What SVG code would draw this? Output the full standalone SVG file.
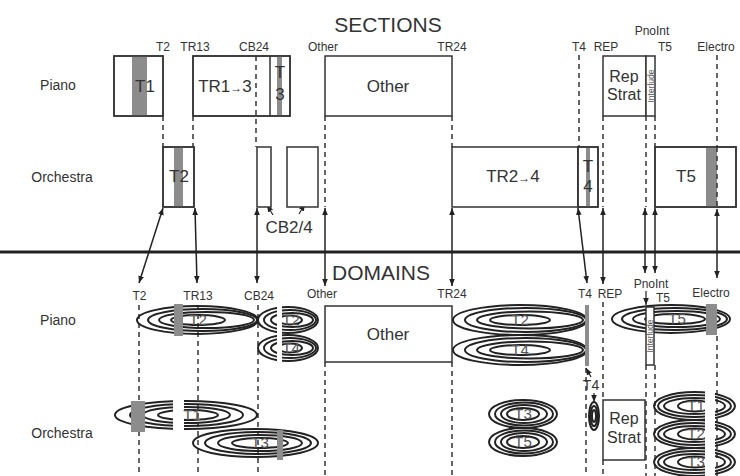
<svg xmlns="http://www.w3.org/2000/svg" width="740" height="476" viewBox="0 0 740 476">
<defs>
<marker id="ah" viewBox="0 0 10 10" refX="10" refY="5" markerWidth="7" markerHeight="7" markerUnits="userSpaceOnUse" orient="auto-start-reverse"><path d="M0,1 L10,5 L0,9 z" fill="#222"/></marker>
<style>
text{font-family:"Liberation Sans",Arial,sans-serif;fill:#333}
.lbl{font-size:12px;text-anchor:middle}
.row{font-size:14px;text-anchor:middle}
.big{font-size:17px;text-anchor:middle}
.rs{font-size:16px;text-anchor:middle}
.ttl{font-size:21px;text-anchor:middle}
.box{fill:#fff;stroke:#333;stroke-width:1.5}
.out{fill:none;stroke:#333;stroke-width:1.5}
.bar{fill:#8c8c8c}
.dash{stroke:#333;stroke-width:1.5;stroke-dasharray:5 4;fill:none}
.arr{stroke:#222;stroke-width:1.5;fill:none;marker-start:url(#ah);marker-end:url(#ah)}
.arr1{stroke:#222;stroke-width:1.2;fill:none;marker-end:url(#ah)}
.el{fill:none;stroke:#222;stroke-width:2}
.et{font-size:15px;text-anchor:middle;fill:#555}
.gap{fill:#fff}
.il{font-size:8.5px;text-anchor:middle;fill:#555}
</style>
</defs>

<g id="titles">
<text class="ttl" x="388" y="32">SECTIONS</text>
<text class="ttl" x="381" y="280">DOMAINS</text>
<text class="row" x="58" y="90">Piano</text>
<text class="row" x="62" y="182">Orchestra</text>
<text class="row" x="58" y="325">Piano</text>
<text class="row" x="62" y="438">Orchestra</text>
</g>

<g id="section-labels">
<text class="lbl" x="163" y="51">T2</text>
<text class="lbl" x="195" y="51">TR13</text>
<text class="lbl" x="254" y="51">CB24</text>
<text class="lbl" x="323" y="51">Other</text>
<text class="lbl" x="452" y="51">TR24</text>
<text class="lbl" x="579" y="51">T4</text>
<text class="lbl" x="606" y="51">REP</text>
<text class="lbl" x="652" y="35">PnoInt</text>
<text class="lbl" x="665" y="51">T5</text>
<text class="lbl" x="716" y="51">Electro</text>
</g>

<g id="domain-labels">
<text class="lbl" x="139.5" y="300">T2</text>
<text class="lbl" x="198" y="300">TR13</text>
<text class="lbl" x="259" y="300">CB24</text>
<text class="lbl" x="322" y="298">Other</text>
<text class="lbl" x="452" y="298">TR24</text>
<text class="lbl" x="585" y="298">T4</text>
<text class="lbl" x="610" y="298">REP</text>
<text class="lbl" x="651" y="288">PnoInt</text>
<text class="lbl" x="663" y="302">T5</text>
<text class="lbl" x="711" y="297">Electro</text>
</g>

<g id="connectors">
<path class="dash" d="M163,116V147 M193,116V147 M256,56V147 M325,116V207 M452,116V147 M579,55V147 M603,116V207 M646,116V207 M655,116V147 M717,55V207"/>
<path class="dash" d="M139,305V476 M198,305V476 M258,305V476 M325,362V476 M452,362V476 M586,368V476 M603,302V400 M603,460V476 M646,365V476 M655,365V476 M717,336V476"/>
<line x1="0" y1="252" x2="740" y2="252" stroke="#222" stroke-width="3"/>
<line class="arr" x1="163" y1="208" x2="139" y2="283"/>
<line class="arr" x1="195" y1="208" x2="197" y2="283"/>
<line class="arr" x1="257" y1="208" x2="257" y2="283"/>
<line class="arr" x1="325" y1="208" x2="325" y2="286"/>
<line class="arr" x1="452" y1="208" x2="452" y2="286"/>
<line class="arr" x1="578" y1="208" x2="587" y2="283"/>
<line class="arr" x1="603" y1="208" x2="603" y2="284"/>
<line class="arr" x1="645" y1="208" x2="645" y2="273"/>
<line class="arr" x1="655" y1="208" x2="655" y2="273"/>
<line class="arr" x1="717" y1="209" x2="717" y2="278"/>
<line class="arr1" x1="273" y1="215" x2="267" y2="205"/>
<line class="arr1" x1="299" y1="214" x2="305" y2="204"/>
<line class="arr1" x1="646" y1="291" x2="646" y2="305"/>
<line class="arr1" x1="591" y1="377" x2="586" y2="368"/>
<line class="arr1" x1="594" y1="393" x2="594" y2="402"/>
</g>

<g id="sec-piano-T1">
<rect class="box" x="114" y="56" width="49" height="60"/>
<rect class="bar" x="132" y="56" width="15" height="60"/>
<rect class="out" x="114" y="56" width="49" height="60"/>
<text class="big" x="145" y="92">T1</text>
</g>

<g id="sec-piano-TR13">
<rect class="box" x="193" y="56" width="97" height="60"/>
<rect class="bar" x="277" y="56" width="5" height="60"/>
<rect class="out" x="193" y="56" width="97" height="60"/>
<line x1="270" y1="56" x2="270" y2="116" stroke="#333" stroke-width="1.5"/>
<path class="dash" d="M256,56V116"/>
<text class="big" x="225" y="92">TR1<tspan font-size="12">→</tspan>3</text>
<text class="big" x="280" y="78">T</text>
<text class="big" x="280" y="100">3</text>
</g>

<g id="sec-piano-Other">
<rect class="box" x="325" y="56" width="127" height="60"/>
<text class="big" x="388" y="92">Other</text>
</g>

<g id="sec-piano-RepStrat">
<rect class="box" x="603" y="56" width="43" height="60"/>
<text class="rs" x="624" y="82">Rep</text>
<text class="rs" x="624" y="100">Strat</text>
</g>

<g id="sec-piano-Interlude">
<rect class="box" x="646" y="56" width="9" height="60"/>
<text class="il" transform="translate(653.5,86) rotate(-90)">Interlude</text>
</g>

<g id="sec-orch-T2">
<rect class="box" x="163" y="147" width="31" height="60"/>
<rect class="bar" x="174" y="147" width="9" height="60"/>
<rect class="out" x="163" y="147" width="31" height="60"/>
<text class="big" x="179" y="182">T2</text>
</g>

<g id="sec-orch-CB24">
<rect class="box" x="257" y="147" width="14" height="60"/>
<rect class="box" x="287" y="147" width="31" height="60"/>
<text class="big" x="289" y="233" font-size="16">CB2/4</text>
</g>

<g id="sec-orch-TR24">
<rect class="box" x="452" y="147" width="126" height="60"/>
<rect class="box" x="578" y="147" width="20" height="60"/>
<rect class="bar" x="586" y="147" width="4" height="60"/>
<rect class="out" x="578" y="147" width="20" height="60"/>
<text class="big" x="513" y="182">TR2<tspan font-size="12">→</tspan>4</text>
<text class="big" x="588" y="172">T</text>
<text class="big" x="588" y="192">4</text>
</g>

<g id="sec-orch-T5">
<rect class="box" x="655" y="147" width="81" height="60"/>
<rect class="bar" x="706" y="147" width="11" height="60"/>
<rect class="out" x="655" y="147" width="81" height="60"/>
<path class="dash" d="M717,147V207"/>
<text class="big" x="686" y="182">T5</text>
</g>

<g id="dom-piano-T2">
<ellipse class="el" cx="197.5" cy="320" rx="60.5" ry="14"/>
<ellipse class="el" cx="202.5" cy="320" rx="54.5" ry="11"/>
<ellipse class="el" cx="206.5" cy="320" rx="47.5" ry="8"/>
<ellipse class="el" cx="198" cy="320" rx="27" ry="5"/>
<rect class="bar" x="174" y="304" width="9" height="32"/>
<text class="et" x="198" y="325">T2</text>
</g>

<g id="dom-piano-CB-T2">
<ellipse class="el" cx="288" cy="320" rx="30" ry="13"/>
<ellipse class="el" cx="290" cy="320" rx="26" ry="10"/>
<ellipse class="el" cx="292" cy="320" rx="21" ry="7"/>
<ellipse class="el" cx="290" cy="320" rx="12" ry="4.5"/>
<text class="et" x="291" y="325" font-size="14">T2</text>
</g>

<g id="dom-piano-CB-T4">
<ellipse class="el" cx="288" cy="348" rx="30" ry="13"/>
<ellipse class="el" cx="290" cy="348" rx="26" ry="10"/>
<ellipse class="el" cx="292" cy="348" rx="21" ry="7"/>
<ellipse class="el" cx="290" cy="348" rx="12" ry="4.5"/>
<rect class="gap" x="277" y="305" width="5" height="58"/>
<text class="et" x="291" y="353" font-size="14">T4</text>
</g>

<g id="dom-piano-Other">
<rect class="box" x="325" y="306" width="127" height="56"/>
<text class="big" x="388" y="340">Other</text>
</g>

<g id="dom-piano-TR24-T2">
<ellipse class="el" cx="520" cy="320" rx="67" ry="15"/>
<ellipse class="el" cx="525.5" cy="320" rx="60.5" ry="12"/>
<ellipse class="el" cx="530" cy="320" rx="53" ry="8.5"/>
<ellipse class="el" cx="520" cy="320" rx="30" ry="5"/>
<text class="et" x="520" y="325">T2</text>
</g>

<g id="dom-piano-TR24-T4">
<ellipse class="el" cx="520" cy="350" rx="67" ry="15"/>
<ellipse class="el" cx="525.5" cy="350" rx="60.5" ry="12"/>
<ellipse class="el" cx="530" cy="350" rx="53" ry="8.5"/>
<ellipse class="el" cx="520" cy="350" rx="30" ry="5"/>
<text class="et" x="520" y="355">T4</text>
<rect class="bar" x="585" y="305" width="4" height="61"/>
</g>

<g id="dom-piano-T5">
<ellipse class="el" cx="671" cy="319" rx="59" ry="14"/>
<ellipse class="el" cx="674.5" cy="319" rx="52.5" ry="11"/>
<ellipse class="el" cx="676.5" cy="319" rx="43.5" ry="8"/>
<ellipse class="el" cx="675" cy="319" rx="30" ry="5"/>
<text class="et" x="677" y="324">T5</text>
<rect class="bar" x="706" y="304" width="11" height="31"/>
</g>

<g id="dom-piano-Interlude">
<rect class="box" x="646" y="307" width="8" height="58"/>
<text class="il" transform="translate(653,336) rotate(-90)">Interlude</text>
</g>

<g id="dom-orch-T1">
<ellipse class="el" cx="186" cy="415" rx="71" ry="14"/>
<ellipse class="el" cx="186.5" cy="415" rx="56.5" ry="11"/>
<ellipse class="el" cx="186.5" cy="415" rx="43.5" ry="8"/>
<ellipse class="el" cx="188" cy="415" rx="30" ry="5"/>
<rect class="gap" x="173" y="399" width="11" height="33"/>
<rect class="bar" x="131" y="401" width="14" height="31"/>
<text class="et" x="192" y="420">T1</text>
</g>

<g id="dom-orch-T3">
<ellipse class="el" cx="255.5" cy="443" rx="62.5" ry="14"/>
<ellipse class="el" cx="258" cy="443" rx="53" ry="11"/>
<ellipse class="el" cx="260" cy="443" rx="42" ry="8"/>
<ellipse class="el" cx="260" cy="443" rx="28" ry="5"/>
<rect class="bar" x="277" y="430" width="6" height="30"/>
<text class="et" x="260" y="448">T3</text>
</g>

<g id="dom-orch-TR24-T3">
<ellipse class="el" cx="523" cy="414" rx="34" ry="14"/>
<ellipse class="el" cx="524" cy="414" rx="29" ry="11.5"/>
<ellipse class="el" cx="524" cy="414" rx="23" ry="9"/>
<ellipse class="el" cx="523" cy="414" rx="16" ry="6"/>
<text class="et" x="523" y="419" font-size="14">T3</text>
</g>

<g id="dom-orch-TR24-T5">
<ellipse class="el" cx="523" cy="442" rx="34" ry="14"/>
<ellipse class="el" cx="524" cy="442" rx="29" ry="11.5"/>
<ellipse class="el" cx="524" cy="442" rx="23" ry="9"/>
<ellipse class="el" cx="523" cy="442" rx="16" ry="6"/>
<text class="et" x="523" y="447" font-size="14">T5</text>
</g>

<g id="dom-orch-T4">
<text class="row" x="591" y="390">T4</text>
<ellipse class="el" cx="594" cy="416" rx="5" ry="14"/>
<ellipse class="el" cx="594" cy="416" rx="3.5" ry="10"/>
<ellipse class="el" cx="594" cy="416" rx="2" ry="6"/>
</g>

<g id="dom-orch-RepStrat">
<rect class="box" x="603" y="400" width="42" height="60"/>
<text class="rs" x="624" y="424">Rep</text>
<text class="rs" x="624" y="443">Strat</text>
</g>

<g id="dom-orch-T1-T3">
<ellipse class="el" cx="694.5" cy="406" rx="40.5" ry="14"/>
<ellipse class="el" cx="694.5" cy="406" rx="36.5" ry="11"/>
<ellipse class="el" cx="694.5" cy="406" rx="30.5" ry="8"/>
<ellipse class="el" cx="695" cy="406" rx="17" ry="5.5"/>
<ellipse class="el" cx="694.5" cy="434" rx="40.5" ry="14"/>
<ellipse class="el" cx="694.5" cy="434" rx="36.5" ry="11"/>
<ellipse class="el" cx="694.5" cy="434" rx="30.5" ry="8"/>
<ellipse class="el" cx="695" cy="434" rx="17" ry="5.5"/>
<ellipse class="el" cx="694.5" cy="462" rx="40.5" ry="14"/>
<ellipse class="el" cx="694.5" cy="462" rx="36.5" ry="11"/>
<ellipse class="el" cx="694.5" cy="462" rx="30.5" ry="8"/>
<ellipse class="el" cx="695" cy="462" rx="17" ry="5.5"/>
<rect class="gap" x="705" y="390" width="10" height="86"/>
<text class="et" x="696" y="411" font-size="14">T1</text>
<text class="et" x="696" y="439" font-size="14">T2</text>
<text class="et" x="696" y="467" font-size="14">T3</text>
</g>
</svg>
